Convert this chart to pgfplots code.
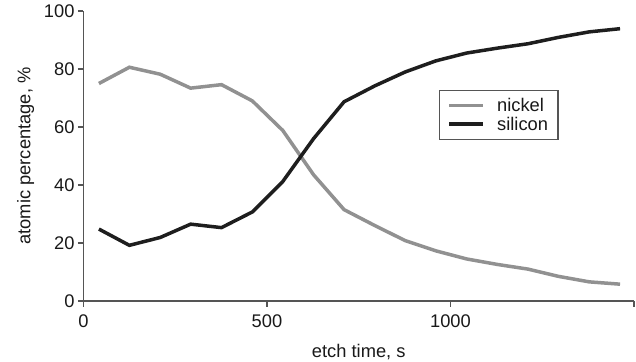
\documentclass[border=0pt]{standalone}
\usepackage{fontspec}
\setmainfont{Liberation Sans}
\usepackage{pgfplots}
\pgfplotsset{compat=1.18}
\definecolor{nickelc}{RGB}{145,145,145}
\definecolor{siliconc}{RGB}{30,30,30}
\definecolor{axisc}{RGB}{85,85,85}
\definecolor{textc}{RGB}{25,25,25}
\begin{document}
\begin{tikzpicture}
\begin{axis}[
  name=ax,
  scale only axis,
  width=550.5bp, height=290bp,
  xmin=0, xmax=1500, ymin=0, ymax=100,
  axis x line=bottom, axis y line=left,
  axis line style={-, draw=axisc, line width=1.1bp},
  tick style={draw=axisc, line width=1.1bp},
  tick align=outside, major tick length=5.5bp,
  xtick={0,500,1000,1500}, xticklabels={0,500,1000,{}},
  ytick={0,20,40,60,80,100},
  /pgf/number format/assume math mode=true,
  font=\fontsize{18.3bp}{21bp}\selectfont,
  every tick label/.append style={text=textc},
  xticklabel style={yshift=-5bp},
  xlabel={etch time, s}, ylabel={atomic percentage, \%},
  label style={text=textc},
  xlabel style={yshift=-9bp},
  ylabel style={yshift=3bp},
  legend style={at={(rel axis cs:0.646,0.729)}, anchor=north west,
    draw=axisc, line width=1.1bp, font=\fontsize{18.3bp}{19bp}\selectfont,
    inner xsep=8bp, inner ysep=6bp, text=textc,
    /tikz/every odd column/.append style={column sep=10bp}},
  legend cell align=left,
  legend image code/.code={\draw[#1, line width=3.5bp] (0bp,0bp) -- (34bp,0bp);},
]
\addplot[nickelc, line width=3.5bp] coordinates {
(42,75.0) (125,80.6) (209,78.2) (292,73.4) (376,74.6) (460,69.0) (543,58.8)
(627,43.5) (710,31.5) (794,26.0) (877,20.8) (960,17.3) (1044,14.5) (1128,12.6)
(1211,11.0) (1294,8.5) (1378,6.6) (1462,5.8)};
\addlegendentry{nickel}
\addplot[siliconc, line width=3.5bp] coordinates {
(42,24.8) (125,19.2) (209,21.9) (292,26.5) (376,25.3) (460,30.7) (543,41.2)
(627,56.0) (710,68.7) (794,74.2) (877,79.0) (960,82.8) (1044,85.5) (1128,87.2)
(1211,88.7) (1294,90.9) (1378,92.8) (1462,93.9)};
\addlegendentry{silicon}
\end{axis}
\pgfresetboundingbox
\path ([xshift=-83.5bp,yshift=-61bp]ax.south west) rectangle ([xshift=2bp,yshift=11bp]ax.north east);
\end{tikzpicture}
\end{document}
